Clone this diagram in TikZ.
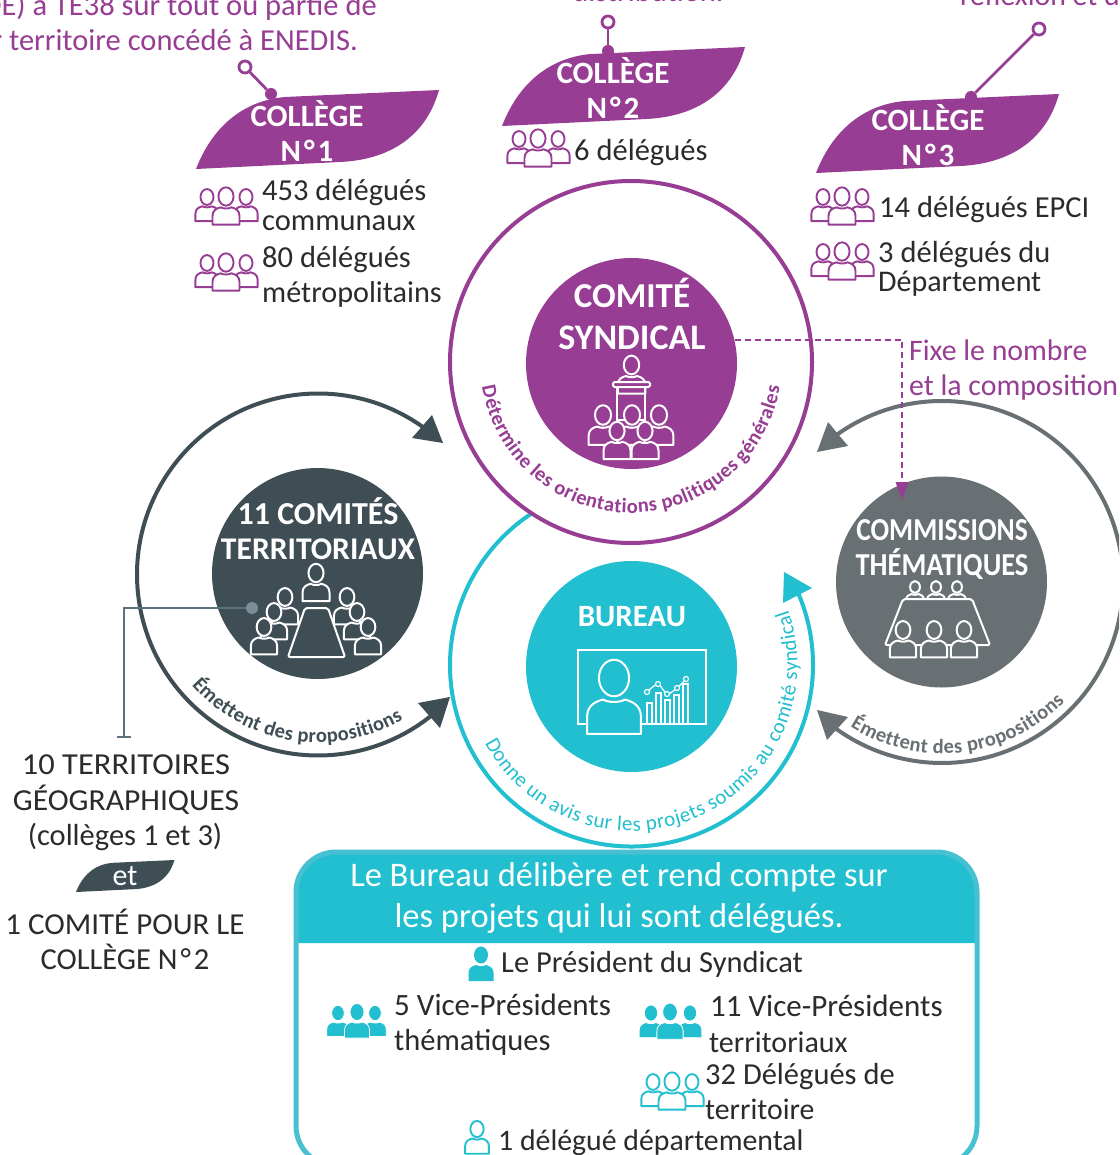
\documentclass[tikz,border=0pt]{standalone}
\usepackage{fontspec}
\setmainfont{Carlito}
\usetikzlibrary{decorations.text}
\definecolor{viol}{HTML}{973D93}
\definecolor{ardoise}{HTML}{3F4E55}
\definecolor{gris}{HTML}{697073}
\definecolor{turq}{HTML}{21BFCF}
\definecolor{cadre}{HTML}{47C1D2}
\definecolor{encre}{HTML}{2B2B2B}
\definecolor{filet}{HTML}{5B717C}
\newcommand{\fs}[1]{\fontsize{#1}{#1}\selectfont}
\newcommand{\nnum}[1]{N\kern3pt°\kern3pt#1}
\tikzset{
 lab/.style={anchor=base west,inner sep=0pt,text=encre,font=\fs{30.5}},
 labc/.style={anchor=base,inner sep=0pt,text=encre,font=\fs{30.5}},
 labp/.style={anchor=base west,inner sep=0pt,text=viol,font=\fs{29.8}},
 labr/.style={anchor=base east,inner sep=0pt,text=viol,font=\fs{30.5}},
 titre/.style={anchor=base,inner sep=0pt,text=white,font=\fs{#1}\bfseries},
 disque/.style={circle,fill=#1,minimum size=211pt,inner sep=0pt},
 anneau/.style={circle,draw=#1,line width=4pt,minimum size=362pt,inner sep=0pt},
 arcfl/.style={draw=#1,line width=4pt},
 pinring/.style={circle,draw=viol,fill=white,line width=2.8pt,minimum size=12pt,inner sep=0pt},
 pindot/.style={circle,fill=viol,minimum size=12pt,inner sep=0pt},
 pinline/.style={draw=viol,line width=2.8pt},
 ligne/.style={draw=white,fill=#1,line width=2pt,line join=round},
 contour/.style={draw=#1,fill=white,line width=1.9pt,line join=round},
 plein/.style={draw=white,fill=#1,line width=.8pt,line join=round},
 pics/person/.style={code={
   \path[pic actions] (-12.5,26) -- (-12.5,18) .. controls (-12.5,13) and (-9,11) .. (-5,10)
      .. controls (-3,11.5) and (3,11.5) .. (5,10) .. controls (9,11) and (12.5,13) .. (12.5,18)
      -- (12.5,26) -- cycle;
   \path[pic actions] (0,0) ellipse[x radius=7pt,y radius=8.5pt];
 }},
 pics/feuille/.style={code={
   \path[pic actions] (0,0) .. controls (19,-49) and (54,-69) .. (89,-72) -- (243,-79)
      .. controls (229,-29) and (189,-9) .. (144,-7) -- cycle;
 }},
}
\newcommand{\groupe}[3]{%
  \pic[#3,scale=.93] at (#1+12,#2+9) {person};
  \pic[#3,scale=.93] at (#1+51,#2+9) {person};
  \pic[#3,scale=1.08] at (#1+31,#2+8.5) {person};
}
\newcommand{\courbe}[7]{% centre, start, end, radius, colour, font, text
  \path[decorate,decoration={text along path,text align={fit to path},
     text={|#6\color{#5}|#7}}]
     ([shift={(#1)}]#2:#4pt) arc[start angle=#2,end angle=#3,radius=#4pt];
}
\begin{document}
\begin{tikzpicture}[x=1pt,y=-1pt]
\useasboundingbox (0,0) rectangle (1119,1155);
\clip (0,0) rectangle (1119,1155);
\fill[white] (0,0) rectangle (1119,1155);

% centres
\coordinate (cC) at (631,362);
\coordinate (cB) at (631.5,665);
\coordinate (cT) at (318,574.5);
\coordinate (cM) at (942,582);

% top clipped texts
\node[labr] (t1) at (377,16) {DE) à TE38 sur tout ou partie de};
\node[labr] (t2) at (358,51) {r territoire concédé à ENEDIS.};
\node[anchor=base,inner sep=0pt,text=viol,font=\fs{30.5}] (t3) at (648,2) {distribution.};
\node[labp] (t4) at (960,6) {réflexion et d};

% leaves
\pic[fill=viol] at (196,169) {feuille};
\pic[fill=viol] at (502,126) {feuille};
\pic[fill=viol] at (816,173) {feuille};
% pins
\node[pinring] (ra) at (245,67) {};
\node[pindot] (da) at (271,94) {};
\draw[pinline] (ra) -- (da);
\node[pinring] (rb) at (608,22) {};
\node[pindot] (db) at (608,51) {};
\draw[pinline] (rb) -- (db);
\node[pinring] (rc) at (1039,29) {};
\node[pindot] (dc) at (971,97) {};
\draw[pinline] (rc) -- (dc);
\node[titre=31] (c1a) at (307,127) {COLLÈGE};
\node[titre=31] (c1b) at (307,162) {\nnum{1}};
\node[titre=31] (c2a) at (613,84) {COLLÈGE};
\node[titre=31] (c2b) at (613,119) {\nnum{2}};
\node[titre=31] (c3a) at (928,131) {COLLÈGE};
\node[titre=31] (c3b) at (928,166) {\nnum{3}};

% delegate groups and labels
\groupe{195}{188}{contour=viol}
\groupe{195}{254}{contour=viol}
\groupe{507}{130}{contour=viol}
\groupe{811}{188}{contour=viol}
\groupe{811}{243}{contour=viol}
\node[lab] (l1) at (262,201) {453 délégués};
\node[lab] (l2) at (262,231) {communaux};
\node[lab] (l3) at (262,268) {80 délégués};
\node[lab] (l4) at (262,302) {\fs{30.2}métropolitains};
\node[lab] (l5) at (574,161) {6 délégués};
\node[lab] (l6) at (879,218) {14 délégués EPCI};
\node[lab] (l7) at (878,263) {3 délégués du};
\node[lab] (l8) at (878,291) {\fs{30}Département};
\node[labp] (f1) at (909,360) {Fixe le nombre};
\node[labp] (f2) at (909,395) {et la composition};

% rings
\draw[arcfl=turq] ([shift={(cB)}]123.3:181.5pt) arc[start angle=123.3,end angle=384.4,radius=181.5pt];
\fill[turq] (784,572) -- (812,588) -- (783,603) -- cycle;
\node[anneau=viol] (rC) at (cC) {};
\draw[arcfl=ardoise] ([shift={(cT)}]53.9:181pt) arc[start angle=53.9,end angle=308.4,radius=181pt];
\fill[ardoise] (432,415) -- (443,443) -- (412,438) -- cycle;
\fill[ardoise] (418,703) -- (450,697) -- (440,728) -- cycle;
\draw[arcfl=gris] ([shift={(cM)}]126.2:181pt) arc[start angle=126.2,end angle=-125.8,radius=181pt];
\fill[gris] (828,422) -- (817,452) -- (848,446) -- cycle;
\fill[gris] (817,710) -- (848,717) -- (827,740) -- cycle;

% discs
\node[disque=viol] (comite) at (631.5,363.5) {};
\node[disque=turq] (bureau) at (631.5,666.5) {};
\node[disque=ardoise] (terr) at (317.5,573.5) {};
\node[disque=gris] (comm) at (941.5,582) {};

% curved texts
\courbe{cC}{189.5}{350.5}{151}{viol}{\fs{20.5}\bfseries}{Détermine les orientations politiques générales}
\courbe{cB}{208}{379.4}{166}{turq}{\fs{21}}{Donne un avis sur les projets soumis au comité syndical}
\courbe{cT}{221.2}{300.4}{168}{ardoise}{\fs{20.5}\bfseries}{Émettent des propositions}
\courbe{cM}{237.6}{315.7}{171.5}{gris}{\fs{20.5}\bfseries}{Émettent des propositions}

% titles
\node[titre=35] (x1) at (632,308) {COMITÉ};
\node[titre=36] (x2) at (632,349) {SYNDICAL};
\node[titre=31] (x3) at (632,626) {BUREAU};
\node[titre=32] (x4) at (318,524) {11 COMITÉS};
\node[titre=31.6] (x5) at (318,559) {TERRITORIAUX};
\node[titre=32] (x6) at (942,540) {\scalebox{.86}[1]{COMMISSIONS}};
\node[titre=32] (x7) at (942,575) {\scalebox{.89}[1]{THÉMATIQUES}};

% dashed link
\coordinate (fin) at (902,490);
\draw[viol,line width=2pt,dash pattern=on 6pt off 4pt] (comite.13.4) -| (fin);
\fill[viol] (902,500) -- (895.5,482) -- (908.5,482) -- cycle;

% comité icon
\pic[ligne=viol,scale=1.1] at (631.5,365) {person};
\draw[white,line width=2pt,fill=viol,rounded corners=1.5pt] (613,382) rectangle (650,387);
\draw[white,line width=2pt] (617,387) rectangle (645,420);
\pic[ligne=viol,scale=1.15] at (603,415) {person};
\pic[ligne=viol,scale=1.15] at (632,415) {person};
\pic[ligne=viol,scale=1.15] at (659,415) {person};
\pic[ligne=viol,scale=1.08] at (617,431) {person};
\pic[ligne=viol,scale=1.08] at (645,431) {person};

% territoires icon
\pic[ligne=ardoise,scale=1.08] at (316,573) {person};
\pic[ligne=ardoise,scale=1.05] at (285,597) {person};
\pic[ligne=ardoise,scale=1.05] at (347,597) {person};
\pic[ligne=ardoise,scale=1.05] at (274,612) {person};
\pic[ligne=ardoise,scale=1.05] at (357,612) {person};
\pic[ligne=ardoise,scale=1.05] at (264,627) {person};
\pic[ligne=ardoise,scale=1.05] at (368,627) {person};
\draw[white,fill=ardoise,line width=2pt,line join=round,rounded corners=2pt] (305,608) -- (328,608) -- (345,657) -- (288,657) -- cycle;

% commissions icon
\pic[ligne=gris,scale=.7] at (915,587) {person};
\pic[ligne=gris,scale=.7] at (936,587) {person};
\pic[ligne=gris,scale=.7] at (957,587) {person};
\draw[white,fill=gris,line width=2pt,line join=round,rounded corners=2pt] (903,599) -- (972,599) -- (990,645) -- (885,645) -- cycle;
\pic[ligne=gris,scale=1.05] at (903,630) {person};
\pic[ligne=gris,scale=1.05] at (934,630) {person};
\pic[ligne=gris,scale=1.05] at (964,630) {person};

% bureau icon
\draw[white,line width=1.5pt] (578,650) rectangle (706,724);
\pic[ligne=turq,scale=2.15] at (614,678) {person};
\foreach \bx/\by in {647/703,656/693,665/700,674/695,683/684}
  \draw[white,line width=1.3pt] (\bx,723) -- (\bx,\by) -- (\bx+5,\by) -- (\bx+5,723);
\draw[white,line width=1.3pt] plot[smooth] coordinates {(647,692) (658,684) (667,694) (677,688) (686,679)};
\foreach \dx/\dy in {647/692,658/684,667/694,677/688,686/679}
  \draw[white,fill=turq,line width=1.2pt] (\dx,\dy) circle[radius=2.5pt];

% territory connector
\node[circle,fill=filet!80!white,minimum size=12pt,inner sep=0pt] (pt) at (252,608) {};
\coordinate (tee) at (124,737);
\draw[filet,line width=2.8pt] (pt) -| (tee);
\draw[filet,line width=2.8pt] (117,737) -- (131,737);

% left labels
\node[labc] (g1) at (126,774) {\scalebox{1.065}[1]{10 TERRITOIRES}};
\node[labc] (g2) at (126,810) {\scalebox{1.035}[1]{GÉOGRAPHIQUES}};
\node[labc] (g3) at (125,845) {(collèges 1 et 3)};
\pic[fill=ardoise,scale=.405] at (76,892) {feuille};
\node[anchor=base,inner sep=0pt,text=white,font=\fs{30}] (g4) at (125,885) {et};
\node[labc] (g5) at (125,934) {\scalebox{1.015}[1]{1 COMITÉ POUR LE}};
\node[labc] (g6) at (125,969) {COLLÈGE \nnum{2}};

% bureau box
\fill[turq] (296,943) [rounded corners=40pt] -- (296,852) -- (977,852) [sharp corners] -- (977,943) -- cycle;
\draw[cadre,line width=5pt,rounded corners=40pt] (296,852) rectangle (977,1166);
\node[anchor=base,inner sep=0pt,text=white,font=\fs{34.5}] (b1) at (619,886) {Le Bureau délibère et rend compte sur};
\node[anchor=base,inner sep=0pt,text=white,font=\fs{34.5}] (b2) at (619,927) {les projets qui lui sont délégués.};

\pic[draw=none,fill=turq,scale=1] at (481,955) {person};
\node[lab] (b3) at (501,972) {Le Président du Syndicat};
\pic[plein=turq,scale=.9] at (338,1013) {person};
\pic[plein=turq,scale=.9] at (375,1013) {person};
\pic[plein=turq,scale=1] at (357,1012) {person};
\node[lab] (b4) at (394,1015) {\fs{31}5 Vice-Présidents};
\node[lab] (b5) at (394,1050) {thématiques};
\pic[plein=turq,scale=.95] at (651,1013) {person};
\pic[plein=turq,scale=.95] at (690,1013) {person};
\pic[plein=turq,scale=1.05] at (670,1012) {person};
\node[lab] (b6) at (710,1016) {\fs{31}11 Vice-Présidents};
\node[lab] (b7) at (709,1052) {\fs{30}territoriaux};
\groupe{641}{1073}{contour=turq}
\node[lab] (b8) at (705,1084) {32 Délégués de};
\node[lab] (b9) at (705,1119) {\fs{29.8}territoire};
\pic[contour=turq,scale=.95] at (477,1129) {person};
\node[lab] (b10) at (498,1150) {\fs{29.8}1 délégué départemental};
\end{tikzpicture}
\end{document}
